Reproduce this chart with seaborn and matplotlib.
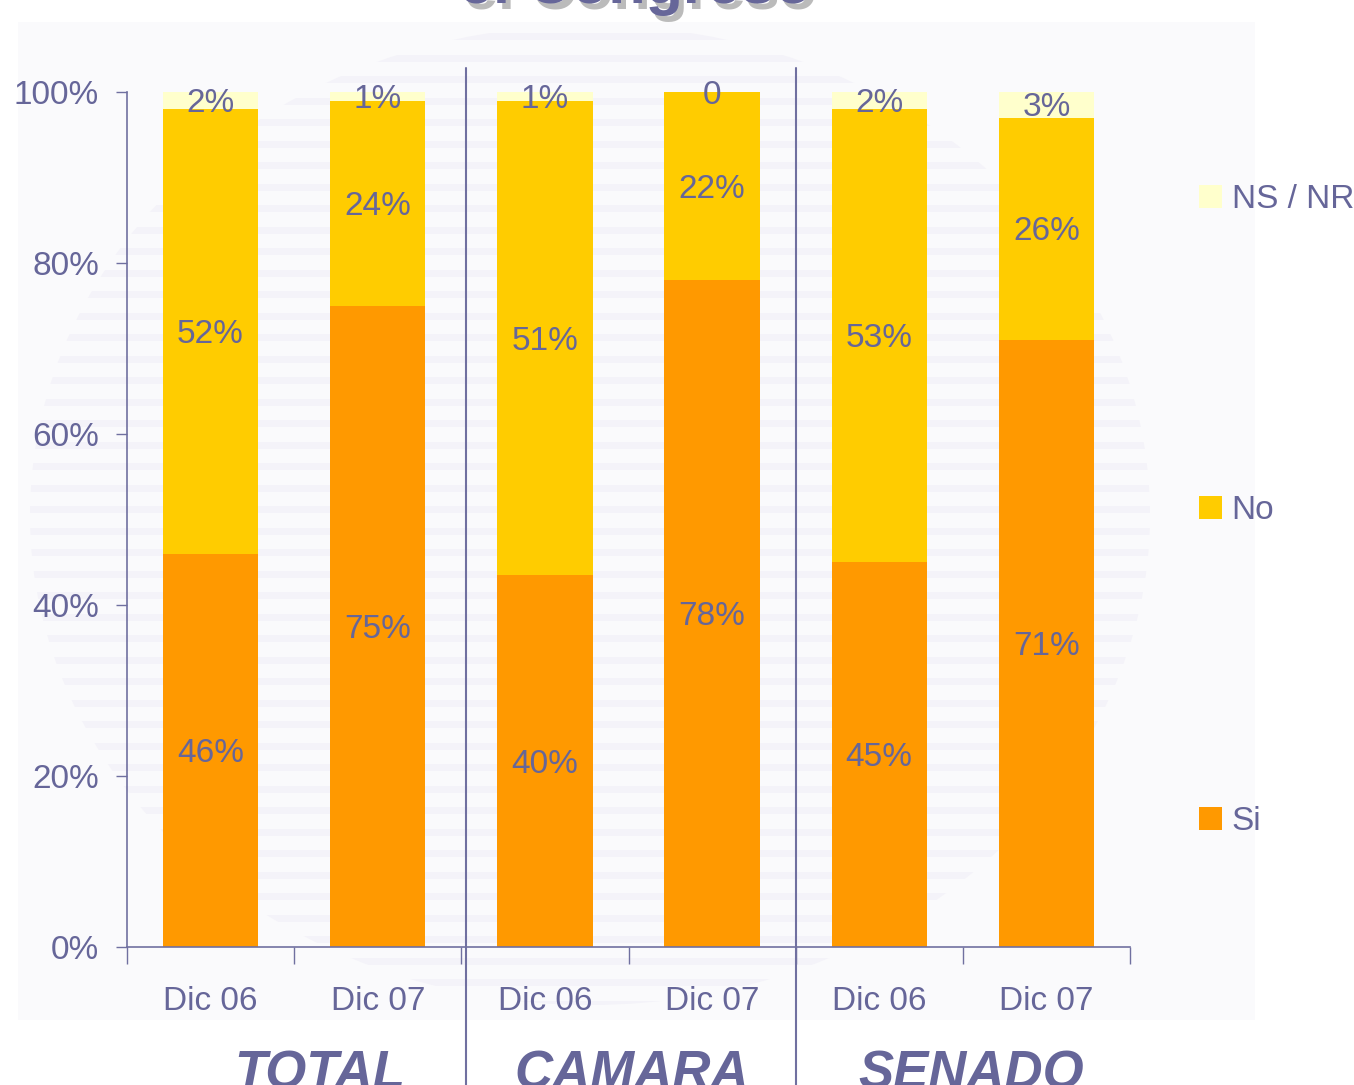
import matplotlib
matplotlib.use("Agg")
import matplotlib.pyplot as plt
import matplotlib.transforms as mtransforms
from matplotlib.patches import Ellipse, Rectangle, Patch
import seaborn as sns
import numpy as np
import pandas as pd

# ---- data ----
categories = ["Dic 06", "Dic 07", "Dic 06", "Dic 07", "Dic 06", "Dic 07"]
groups = ["TOTAL", "CAMARA", "SENADO"]
si = [46, 75, 40, 78, 45, 71]
no = [52, 24, 51, 22, 53, 26]
nsnr = [2, 1, 1, 0, 2, 3]
si_labels = ["46%", "75%", "40%", "78%", "45%", "71%"]
no_labels = ["52%", "24%", "51%", "22%", "53%", "26%"]
nsnr_labels = ["2%", "1%", "1%", "0", "2%", "3%"]
series_names = ["Si", "No", "NS / NR"]
colors = ["#FF9900", "#FFCC00", "#FFFFCC"]
yticks = [0, 20, 40, 60, 80, 100]
ytick_labels = ["0%", "20%", "40%", "60%", "80%", "100%"]
title_text = "el Congreso"

sns.set_theme(style="white")
plt.rcParams['font.family'] = ['Liberation Sans', 'DejaVu Sans']
TXT = "#666699"
LINE = "#7070A0"

fig = plt.figure(figsize=(13.54, 10.85), dpi=100)

# ---- faint watermark background ----
bg = fig.add_axes([0, 0, 1, 1], zorder=-10)
bg.set_xlim(0, 1354)
bg.set_ylim(1085, 0)
bg.axis("off")
bg.add_patch(Rectangle((18, 22), 1237, 998, color="#FAFAFC", lw=0))
ell = Ellipse((590, 515), 1120, 980, transform=bg.transData, fc="none", ec="none")
bg.add_patch(ell)
for yy in np.arange(36, 1010, 21.5):
    ln, = bg.plot([0, 1354], [yy, yy], color="#F4F3F9", lw=5, solid_capstyle="butt")
    ln.set_clip_path(ell)

# ---- main axes ----
ax = fig.add_axes([127 / 1354, 1 - 947 / 1085, (1130 - 127) / 1354, (947 - 92) / 1085])
ax.patch.set_alpha(0)

df = pd.DataFrame({"pos": list(range(6)), "si": si, "no": no, "ns": nsnr})
tot = df["si"] + df["no"] + df["ns"]
df["p_si"] = df["si"] / tot * 100
df["p_no"] = df["no"] / tot * 100
df["p_ns"] = df["ns"] / tot * 100
df["c_si"] = df["p_si"]
df["c_no"] = df["p_si"] + df["p_no"]
df["c_ns"] = df["c_no"] + df["p_ns"]

for col, c in zip(["c_ns", "c_no", "c_si"], colors[::-1]):
    sns.barplot(data=df, x="pos", y=col, color=c, saturation=1, width=0.57,
                errorbar=None, linewidth=0, ax=ax)

fs = 24
lab_tr = mtransforms.offset_copy(ax.transData, fig=fig, x=0, y=-3, units="dots")
for i in range(6):
    ax.text(i, df["p_si"][i] / 2, si_labels[i], ha="center", va="center", fontsize=fs,
            color=TXT, transform=lab_tr)
    ax.text(i, df["c_si"][i] + df["p_no"][i] / 2, no_labels[i], ha="center", va="center",
            fontsize=fs, color=TXT, transform=lab_tr)
    ax.text(i, df["c_no"][i] + df["p_ns"][i] / 2, nsnr_labels[i], ha="center", va="center",
            fontsize=fs, color=TXT, transform=lab_tr)

ax.set_xlim(-0.5, 5.5)
ax.set_ylim(0, 100)
ax.set_xlabel("")
ax.set_ylabel("")
ax.set_xticks(range(6))
ax.set_xticklabels(categories)
ax.set_xticks(np.arange(-0.5, 6, 1), minor=True)
ax.tick_params(axis="x", which="major", length=0, pad=28, labelsize=fs, labelcolor=TXT)
ax.tick_params(axis="x", which="minor", length=12, width=1, color=LINE, direction="out", bottom=True)
ax.set_yticks(yticks)
ax.set_yticklabels(ytick_labels)
ax.tick_params(axis="y", length=8, width=1, color=LINE, direction="out", left=True, pad=12,
               labelsize=fs, labelcolor=TXT)
for s in ["top", "right"]:
    ax.spines[s].set_visible(False)
for s in ["left", "bottom"]:
    ax.spines[s].set_color(LINE)
    ax.spines[s].set_linewidth(1.2)

# separators between groups
blend = mtransforms.blended_transform_factory(ax.transData, fig.transFigure)
for xs in [1.53, 3.5]:
    ax.plot([xs, xs], [0, 1 - 68 / 1085], color=LINE, lw=1.5, transform=blend, clip_on=False)

# group labels
for xg, g in zip([0.655, 2.52, 4.55], groups):
    ax.text(xg, -0.003, g, transform=blend, ha="center", va="baseline", fontsize=38,
            fontweight="bold", fontstyle="italic", color=TXT)

# legend
handles = [Patch(facecolor=c, edgecolor="none") for c in colors[::-1]]
fig.legend(handles, series_names[::-1], loc="upper left",
           bbox_to_anchor=(1199 / 1354, 1 - 184 / 1085), frameon=False,
           fontsize=fs, labelcolor=TXT, handlelength=0.68, handleheight=0.68,
           handletextpad=0.3, labelspacing=8.4, borderpad=0, borderaxespad=0)

# cut-off title
fig.text(635 / 1354 + 0.004, 0.997 - 0.005, title_text, ha="center", va="baseline", fontsize=44,
         fontweight="bold", color="#BBBBBB", zorder=1)
fig.text(635 / 1354, 0.997, title_text, ha="center", va="baseline", fontsize=44,
         fontweight="bold", color=TXT, zorder=2)

fig.savefig("out.png", dpi=100)
